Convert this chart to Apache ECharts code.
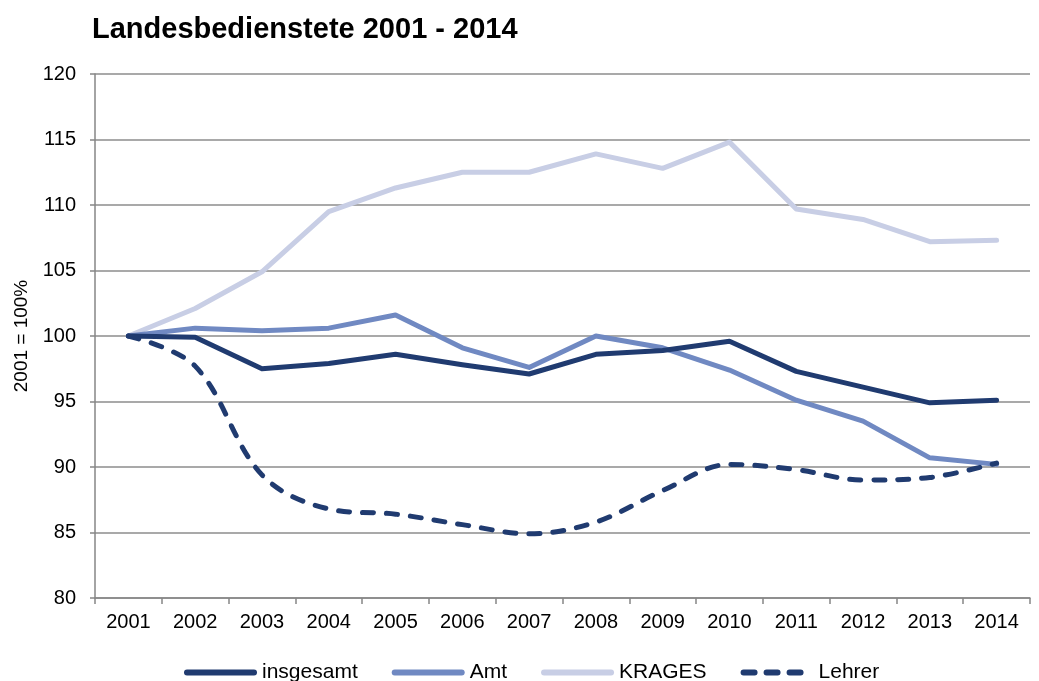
<!DOCTYPE html>
<html>
<head>
<meta charset="utf-8">
<script src="https://cdn.jsdelivr.net/npm/echarts@6/dist/echarts.min.js"></script>
<style>
html,body{margin:0;padding:0;background:#fff;}
#chart{width:1039px;height:681px;}
</style>
</head>
<body>
<div id="chart"></div>
<script>
var years=['2001','2002','2003','2004','2005','2006','2007','2008','2009','2010','2011','2012','2013','2014'];
var insgesamt=[100,99.9,97.5,97.9,98.6,97.8,97.1,98.6,98.9,99.6,97.3,96.1,94.9,95.1];
var amt=[100,100.6,100.4,100.6,101.6,99.1,97.6,100.0,99.1,97.4,95.1,93.5,90.7,90.2];
var krages=[100,102.1,104.9,109.5,111.3,112.5,112.5,113.9,112.8,114.8,109.7,108.9,107.2,107.3];
var lehrer=[100,97.7,89.4,86.8,86.4,85.6,84.9,85.8,88.2,90.2,89.8,89.0,89.2,90.3];

var dark='#203B70',mid='#7089C2',light='#C8CEE5';
var font='"Liberation Sans", Arial, sans-serif';

function line(color,dash){
    return {color:color,width:5,cap:'round',join:'round',type:dash||'solid'};
}

var chart=echarts.init(document.getElementById('chart'));
var option={
    animation:false,
    textStyle:{fontFamily:font},
    title:{
        text:'Landesbedienstete 2001 - 2014',
        left:87,
        top:10,
        textStyle:{fontSize:29,fontWeight:'bold',color:'#000',fontFamily:font}
    },
    legend:{
        top:657,
        left:179,
        itemWidth:67,
        itemHeight:20,
        itemGap:34,
        textStyle:{fontSize:21,color:'#000',fontFamily:font,padding:[0,0,0,3]},
        itemStyle:{opacity:0},
        lineStyle:{width:6},
        data:[
            {name:'insgesamt'},
            {name:'Amt'},
            {name:'KRAGES'},
            {name:'Lehrer',lineStyle:{width:6,type:[11,12],cap:'round'}}
        ]
    },
    grid:{left:95,right:9,top:74,bottom:83},
    xAxis:{
        type:'category',
        data:years,
        boundaryGap:true,
        axisLine:{lineStyle:{color:'#868686',width:1.5}},
        axisTick:{show:true,length:6,lineStyle:{color:'#868686',width:1.5}},
        axisLabel:{fontSize:20,color:'#000',margin:14,fontFamily:font}
    },
    yAxis:{
        type:'value',
        min:80,
        max:120,
        interval:5,
        name:'2001 = 100%',
        nameLocation:'middle',
        nameGap:64,
        nameTextStyle:{fontSize:19,color:'#000',fontFamily:font},
        axisLine:{show:true,lineStyle:{color:'#868686',width:1.5}},
        axisTick:{show:true,length:5,lineStyle:{color:'#868686',width:1.5}},
        axisLabel:{fontSize:20,color:'#000',margin:19,fontFamily:font},
        splitLine:{lineStyle:{color:'#8c8c8c',width:1.5}}
    },
    series:[
        {name:'insgesamt',type:'line',data:insgesamt,symbol:'none',z:4,
         itemStyle:{color:dark},lineStyle:line(dark)},
        {name:'Amt',type:'line',data:amt,symbol:'none',z:3,
         itemStyle:{color:mid},lineStyle:line(mid)},
        {name:'KRAGES',type:'line',data:krages,symbol:'none',z:2,
         itemStyle:{color:light},lineStyle:line(light)},
        {name:'Lehrer',type:'line',data:lehrer,symbol:'none',smooth:0.35,z:5,
         itemStyle:{color:dark},lineStyle:line(dark,[11,13])}
    ]
};
chart.setOption(option);
</script>
</body>
</html>
